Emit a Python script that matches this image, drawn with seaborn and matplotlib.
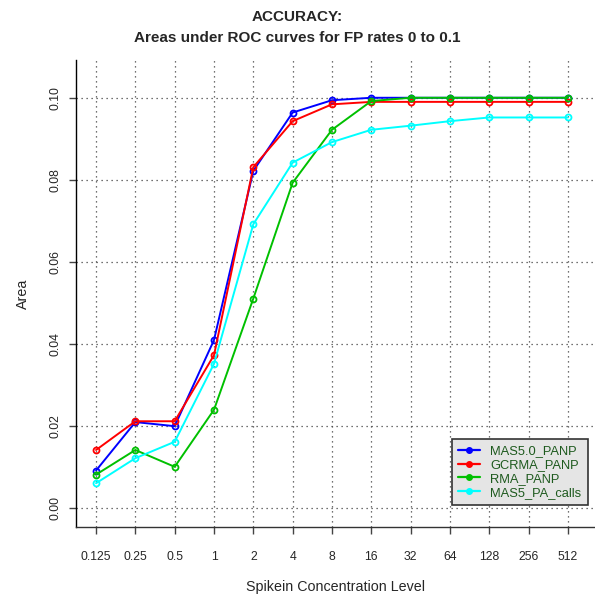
import matplotlib
matplotlib.use("Agg")
import matplotlib.pyplot as plt
from matplotlib.lines import Line2D
import seaborn as sns
import pandas as pd
import numpy as np

levels = ["0.125", "0.25", "0.5", "1", "2", "4", "8", "16", "32", "64", "128", "256", "512"]
mas50_panp = [0.0092, 0.0210, 0.0200, 0.0410, 0.0822, 0.0964, 0.0994, 0.1000, 0.1000, 0.1000, 0.1000, 0.1000, 0.1000]
gcrma_panp = [0.0142, 0.0212, 0.0212, 0.0373, 0.0831, 0.0943, 0.0984, 0.0990, 0.0990, 0.0990, 0.0990, 0.0990, 0.0990]
rma_panp = [0.0082, 0.0142, 0.0101, 0.0240, 0.0511, 0.0793, 0.0922, 0.0992, 0.1000, 0.1000, 0.1000, 0.1000, 0.1000]
mas5_pa_calls = [0.0061, 0.0122, 0.0162, 0.0352, 0.0692, 0.0842, 0.0892, 0.0922, 0.0932, 0.0943, 0.0952, 0.0952, 0.0952]
series_names = ["MAS5.0_PANP", "GCRMA_PANP", "RMA_PANP", "MAS5_PA_calls"]
series_colors = ["#0000ff", "#ff0000", "#00c000", "#00ffff"]
yticks = [0.00, 0.02, 0.04, 0.06, 0.08, 0.10]

sns.set_style("white")
plt.rcParams["font.family"] = ["Liberation Sans", "DejaVu Sans"]

rows = []
for name, vals in zip(series_names, [mas50_panp, gcrma_panp, rma_panp, mas5_pa_calls]):
    for i, v in enumerate(vals):
        rows.append({"pos": i, "level": levels[i], "Area": v, "method": name})
df = pd.DataFrame(rows)

fig = plt.figure(figsize=(5.95, 5.94), dpi=100)
ax = fig.add_axes([76/595, 1-527/594, 1-76/595, (527-60)/594])

for name, col in zip(series_names, series_colors):
    sub = df[df["method"] == name]
    sns.lineplot(data=sub, x="pos", y="Area", ax=ax, color=col, lw=1.4,
                 marker="o", ms=4.3, mfc="none", mec=col, mew=1.3, legend=False, zorder=3)

ax.set_xlim(-0.51, 12.69)
ax.set_ylim(-0.00456, 0.1092)
ax.set_xticks(range(len(levels)))
ax.set_xticklabels(levels, fontsize=8.8)
ax.set_yticks(yticks)
ax.set_yticklabels([f"{t:.2f}" for t in yticks], rotation=90, va="center", fontsize=8.8)
ax.tick_params(axis="both", direction="out", length=5, width=1, color="#444444", left=True, bottom=True)
ax.tick_params(axis="x", pad=12.5)
ax.tick_params(axis="y", pad=5.5)
ax.grid(True, linestyle=(0, (1, 3)), color="#444444", linewidth=0.9)
for s in ["top", "right"]:
    ax.spines[s].set_visible(False)
ax.spines["left"].set_color("black")
ax.spines["bottom"].set_color("#333333")
for s in ["left", "bottom"]:
    ax.spines[s].set_linewidth(1.0)

ax.set_xlabel("Spikein Concentration Level", fontsize=10.3, labelpad=12)
ax.set_ylabel("Area", fontsize=10.3, labelpad=14)

fig.text(0.5, 1-17/594, "ACCURACY:", ha="center", va="center", fontsize=11, fontweight="bold")
fig.text(0.5, 1-38/594, "Areas under ROC curves for FP rates 0 to 0.1", ha="center", va="center",
         fontsize=11, fontweight="bold")

handles = [Line2D([0], [0], color=c, lw=1.6, marker="o", ms=4, mfc=c, mec=c) for c in series_colors]
leg = ax.legend(handles, series_names, loc="lower right", bbox_to_anchor=(0.9865, 0.047),
                fontsize=9.3, frameon=True, fancybox=False, framealpha=1, labelspacing=0.13,
                handlelength=1.7, borderpad=0.5, handletextpad=0.8, borderaxespad=0)
leg.get_frame().set_facecolor("#e5e5e5")
leg.get_frame().set_edgecolor("#333333")
leg.get_frame().set_linewidth(1.2)
for t in leg.get_texts():
    t.set_color("#1e5a1e")

fig.savefig("out.png", dpi=100, facecolor="white")
